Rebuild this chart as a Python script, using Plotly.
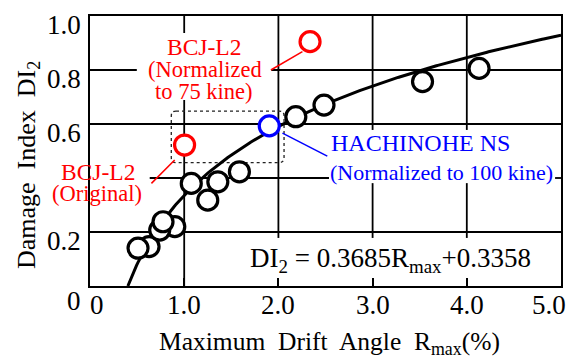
import numpy as np
import plotly.graph_objects as go

# ---- data ----
drift_black = [0.627, 0.51, 0.90, 0.74, 0.775, 1.25, 1.075, 1.357, 1.586, 2.185, 2.484, 3.53, 4.13]
di_black = [0.146, 0.140, 0.220, 0.207, 0.238, 0.318, 0.380, 0.386, 0.423, 0.627, 0.670, 0.757, 0.806]
drift_red = [1.004, 2.336]
di_red = [0.522, 0.905]
drift_blue = [1.903]
di_blue = [0.593]
fit_a = 0.3685
fit_b = 0.3358
x_ticks = [0, 1, 2, 3, 4, 5]
x_tick_text = ["0", "1.0", "2.0", "3.0", "4.0", "5.0"]
y_ticks = [0, 0.2, 0.6, 0.8, 1.0]
y_tick_text = ["0", "0.2", "0.6", "0.8", "1.0"]

FONT = "Times New Roman, Liberation Serif, Tinos, serif"
RED = "#ff0000"
BLUE = "#0000ff"
SP = "\u00a0 "

# fitted curve from the printed coefficients
x_start = float(np.exp(-fit_b / fit_a))
fit_x = np.linspace(x_start, 5.0, 300)
fit_y = fit_a * np.log(fit_x) + fit_b

fig = go.Figure()
fig.add_trace(go.Scatter(x=fit_x, y=fit_y, mode="lines",
                         line=dict(color="black", width=3), hoverinfo="skip"))
mk = dict(size=20, color="white", symbol="circle")
fig.add_trace(go.Scatter(x=drift_black, y=di_black, mode="markers",
                         marker=dict(**mk, line=dict(color="black", width=3.2))))
fig.add_trace(go.Scatter(x=drift_red, y=di_red, mode="markers",
                         marker=dict(**mk, line=dict(color=RED, width=3.2))))
fig.add_trace(go.Scatter(x=drift_blue, y=di_blue, mode="markers",
                         marker=dict(**mk, line=dict(color=BLUE, width=3.2))))

shapes = []
GW = 1.8
def seg(x0, y0, x1, y1, color="black", width=GW, dash=None, layer="below"):
    d = dict(type="line", xref="x", yref="y", x0=x0, y0=y0, x1=x1, y1=y1,
             line=dict(color=color, width=width), layer=layer)
    if dash:
        d["line"]["dash"] = dash
    shapes.append(d)

# grid segments (interrupted by the text blocks as in the reference)
seg(1, 0, 1, 0.689); seg(1, 0.937, 1, 1)
seg(2, 0.178, 2, 1)
seg(3, 0.178, 3, 0.381); seg(3, 0.578, 3, 1)
seg(4, 0.178, 4, 0.381); seg(4, 0.578, 4, 1)
seg(0, 0.2, 5, 0.2)
seg(0.634, 0.4, 2.537, 0.4); seg(4.937, 0.4, 5, 0.4)
seg(0, 0.6, 5, 0.6)
seg(0, 0.8, 0.497, 0.8); seg(1.924, 0.8, 5, 0.8)

# leader lines
seg(1.92, 0.80, 2.255, 0.868, color=RED, width=1.5, layer="above")
seg(0.652, 0.380, 0.899, 0.467, color=RED, width=1.5, layer="above")
seg(2.043, 0.566, 2.519, 0.481, color=BLUE, width=1.5, layer="above")

# dotted rounded box
x0, x1, y0, y1 = 0.863, 2.06, 0.457, 0.648
rx, ry = 0.05, 0.018
path = (f"M {x0+rx},{y1} L {x1-rx},{y1} Q {x1},{y1} {x1},{y1-ry} "
        f"L {x1},{y0+ry} Q {x1},{y0} {x1-rx},{y0} L {x0+rx},{y0} "
        f"Q {x0},{y0} {x0},{y0+ry} L {x0},{y1-ry} Q {x0},{y1} {x0+rx},{y1} Z")
shapes.append(dict(type="path", xref="x", yref="y", path=path,
                   line=dict(color="#222", width=1.3, dash="dot"), layer="below"))

ann = []
def txt(x, y, s, size, color="black", xref="x", yref="y", **kw):
    d = dict(x=x, y=y, xref=xref, yref=yref, text=s, showarrow=False,
             font=dict(family=FONT, size=size, color=color))
    d.update(kw)
    ann.append(d)

txt(1.210, 0.885, "BCJ-L2", 23.5, RED)
txt(1.216, 0.802, "(Normalized", 22.5, RED)
txt(1.210, 0.722, "to 75 kine)", 22.5, RED)
txt(0.085, 0.422, "BCJ-L2", 23.5, RED)
txt(0.074, 0.344, "(Original)", 22.5, RED)
txt(3.51, 0.530, "HACHINOHE NS", 24, BLUE)
txt(3.73, 0.422, "(Normalized to 100 kine)", 22, BLUE)
txt(3.19, 0.096, "DI<sub>2</sub> = 0.3685R<sub>max</sub>+0.3358", 27)

# tick labels
for v, t in zip(x_ticks, x_tick_text):
    if v == 5:
        txt(1, 0, t, 27, xref="paper", yref="paper", xanchor="right",
            yanchor="middle", xshift=7, yshift=-19)
        continue
    xv = 0.074 if v == 0 else v
    txt(xv, 0, t, 27, yref="paper", yanchor="middle", yshift=-19)
for v, t in zip(y_ticks, y_tick_text):
    txt(0, v, t, 27, xref="paper", xanchor="right", xshift=-7,
        yanchor="middle", yshift=-15 if v == 0 else -9)

# axis titles
txt(0.508, 0, "Maximum" + SP + "Drift" + SP + "Angle" + SP + "R<sub>max</sub>(%)", 25.5,
    xref="paper", yref="paper", yanchor="middle", yshift=-57)
txt(0, 0.5, "Damage" + SP + "Index" + SP + "DI<sub>2</sub>", 26, xref="paper",
    yref="paper", xanchor="center", xshift=-62, textangle=-90, yshift=-14)

fig.update_layout(
    width=572, height=356,
    margin=dict(l=90, r=9, t=16, b=70),
    paper_bgcolor="white", plot_bgcolor="white",
    showlegend=False,
    shapes=shapes, annotations=ann,
    xaxis=dict(range=[0, 5], showgrid=False, zeroline=False, showline=True,
               mirror=True, linecolor="black", linewidth=2,
               tickvals=[1, 2, 3, 4], ticks="inside", ticklen=8, tickwidth=1.6,
               tickcolor="black", showticklabels=False),
    yaxis=dict(range=[0, 1], showgrid=False, zeroline=False, showline=True,
               mirror=True, linecolor="black", linewidth=2,
               ticks="", showticklabels=False),
)
fig.write_html("out.html")
